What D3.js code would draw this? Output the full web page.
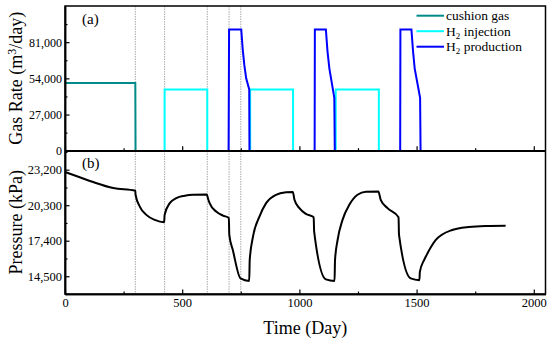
<!DOCTYPE html>
<html lang="en">
<head>
    <meta charset="UTF-8">
    <title>Gas rate and pressure</title>
    <script src="https://d3js.org/d3.v7.min.js"></script>
    <style>
        body { margin: 0; background: #fff; }
        text { font-family: "Liberation Serif", "Times New Roman", serif; fill: #000; }
        .axis path, .axis line { stroke: #000; }
        .axis path { stroke-width: 1.5; }
    </style>
</head>
<body>
    <svg width="550" height="341"></svg>
    <script>
        // event days (grey dotted lines)
        const eventDays = [300, 425, 607, 700, 750];

        // gas rate series, [day, m3/day]
        const cushionGas = [[0, 50500], [300, 50500], [301, 0]];
        const h2Injection = [
            [[425, 0], [425, 45700], [607, 45700], [607, 0]],
            [[790, 0], [790, 45700], [973, 45700], [973, 0]],
            [[1155, 0], [1155, 45700], [1339, 45700], [1339, 0]]
        ];
        const h2Production = [
            [[698, 0], [700, 90500], [752, 90500], [758, 76000], [765, 64000], [773, 54000], [786, 45700], [787, 0]],
            [[1065, 0], [1066, 90500], [1113, 90500], [1120, 74000], [1128, 61300], [1149, 39400], [1151, 0]],
            [[1430, 0], [1431, 90500], [1478, 90500], [1485, 74000], [1492, 61300], [1515, 39400], [1517, 0]]
        ];

        // pressure, [day, kPa]
        const pressure = [
            [0, 23010], [60, 22600], [120, 22190], [206, 21700], [300, 21480],
            [301, 21150], [319, 20190], [347, 19510], [383, 19100], [423, 18910],
            [425, 19510], [447, 20470], [475, 20880], [511, 21070], [546, 21150], [605, 21170],
            [610, 20850], [617, 20470], [645, 19780], [674, 19450], [699, 19260],
            [701, 17870], [716, 16640], [749, 14320], [786, 14120],
            [788, 15800], [802, 17730], [830, 19390], [858, 20470], [900, 21150], [943, 21350], [972, 21380],
            [979, 20740], [1000, 20060], [1028, 19590], [1061, 19320],
            [1063, 18140], [1113, 14240], [1150, 14120],
            [1152, 15820], [1163, 17460], [1184, 19100], [1213, 20330], [1248, 21150], [1284, 21400], [1337, 21420],
            [1347, 20740], [1376, 20060], [1423, 19320],
            [1425, 17870], [1475, 14320], [1512, 14180],
            [1514, 14860], [1532, 15820], [1539, 16090], [1582, 17460], [1652, 18280], [1723, 18530], [1794, 18610], [1880, 18630]
        ];

        const xTicks = [0, 500, 1000, 1500, 2000];
        const xMinor = [250, 750, 1250, 1750];
        const rateTicks = [0, 27000, 54000, 81000];
        const rateMinor = [13500, 40500, 67500, 94500];
        const pressTicks = [14500, 17400, 20300, 23200];
        const pressMinor = [13050, 15950, 18850, 21750, 24650];

        const legendItems = [
            { name: "cushion gas", sub: null, color: "#008b8b" },
            { name: "H", sub: " injection", color: "#00ffff" },
            { name: "H", sub: " production", color: "#0000ff" }
        ];

        const serif = '"Liberation Serif", "Times New Roman", serif';
        const svg = d3.select("svg");
        const left = 65, right = 545.5, topA = 6, midY = 150.7, botB = 294;

        const x = d3.scaleLinear().domain([0, 2050]).range([left, right]);
        const yA = d3.scaleLinear().domain([0, 108000]).range([midY, topA]);
        const yB = d3.scaleLinear().domain([13050, 24750]).range([botB, midY]);

        // dotted event lines
        svg.append("g").selectAll("line")
            .data(eventDays)
            .join("line")
            .attr("x1", d => x(d)).attr("x2", d => x(d))
            .attr("y1", topA).attr("y2", botB)
            .attr("stroke", "#aaa")
            .attr("stroke-width", 1)
            .attr("stroke-dasharray", "1.5,1");

        const lineA = d3.line().x(d => x(d[0])).y(d => yA(d[1]));
        const lineB = d3.line().x(d => x(d[0])).y(d => yB(d[1])).curve(d3.curveMonotoneX);

        svg.append("path").datum(cushionGas)
            .attr("d", lineA).attr("fill", "none")
            .attr("stroke", legendItems[0].color).attr("stroke-width", 2);

        svg.append("g").selectAll("path")
            .data(h2Injection).join("path")
            .attr("d", lineA).attr("fill", "none")
            .attr("stroke", legendItems[1].color).attr("stroke-width", 2);

        svg.append("g").selectAll("path")
            .data(h2Production).join("path")
            .attr("d", lineA).attr("fill", "none")
            .attr("stroke", legendItems[2].color).attr("stroke-width", 2);

        svg.append("path").datum(pressure)
            .attr("d", lineB).attr("fill", "none")
            .attr("stroke", "#000").attr("stroke-width", 2);

        // axes (ticks point inward)
        function drawAxis(axis, transform, fontSize) {
            const g = svg.append("g").attr("class", "axis").attr("transform", transform).call(axis);
            g.attr("font-family", serif).attr("font-size", fontSize);
            g.selectAll("text").style("font-family", serif).style("font-size", fontSize + "px").attr("fill", "#000");
            g.selectAll("line").attr("stroke-width", 1.2);
            return g;
        }
        const fmt = d3.format(",");

        drawAxis(d3.axisLeft(yA).tickValues(rateTicks).tickFormat(fmt).tickSize(-4.5).tickPadding(3).tickSizeOuter(0),
            `translate(${left},0)`, 12);
        drawAxis(d3.axisLeft(yA).tickValues(rateMinor).tickFormat("").tickSize(-2.5).tickSizeOuter(0),
            `translate(${left},0)`, 12);
        drawAxis(d3.axisLeft(yB).tickValues(pressTicks).tickFormat(fmt).tickSize(-4.5).tickPadding(3).tickSizeOuter(0),
            `translate(${left},0)`, 12.5);
        drawAxis(d3.axisLeft(yB).tickValues(pressMinor).tickFormat("").tickSize(-2.5).tickSizeOuter(0),
            `translate(${left},0)`, 12);

        drawAxis(d3.axisBottom(x).tickValues(xTicks).tickFormat("").tickSize(-4.5).tickSizeOuter(0),
            `translate(0,${midY})`, 12);
        drawAxis(d3.axisBottom(x).tickValues(xMinor).tickFormat("").tickSize(-2.5).tickSizeOuter(0),
            `translate(0,${midY})`, 12);
        drawAxis(d3.axisBottom(x).tickValues(xTicks).tickFormat(d3.format("d")).tickSize(-4.5).tickPadding(4).tickSizeOuter(0),
            `translate(0,${botB})`, 12.5);
        drawAxis(d3.axisBottom(x).tickValues(xMinor).tickFormat("").tickSize(-2.5).tickSizeOuter(0),
            `translate(0,${botB})`, 12);

        // frames
        svg.append("rect").attr("x", left).attr("y", topA)
            .attr("width", right - left).attr("height", botB - topA)
            .attr("fill", "none").attr("stroke", "#000").attr("stroke-width", 1.5);
        svg.append("line").attr("x1", left).attr("x2", right)
            .attr("y1", midY).attr("y2", midY)
            .attr("stroke", "#000").attr("stroke-width", 1.5);

        // panel labels
        svg.append("text").attr("x", 82).attr("y", 24).style("font-size", "15px").text("(a)");
        svg.append("text").attr("x", 82).attr("y", 168).style("font-size", "15px").text("(b)");

        // axis titles
        const tA = svg.append("text")
            .attr("transform", `translate(22,${(topA + midY) / 2}) rotate(-90)`)
            .attr("text-anchor", "middle").style("font-size", "18px");
        tA.append("tspan").text("Gas Rate (m");
        tA.append("tspan").attr("dy", -6).style("font-size", "12px").text("3");
        tA.append("tspan").attr("dy", 6).text("/day)");

        svg.append("text")
            .attr("transform", `translate(22,${(midY + botB) / 2}) rotate(-90)`)
            .attr("text-anchor", "middle").style("font-size", "18px")
            .text("Pressure (kPa)");

        svg.append("text").attr("x", (left + right) / 2).attr("y", 334)
            .attr("text-anchor", "middle").style("font-size", "18px")
            .text("Time (Day)");

        // legend
        const lg = svg.append("g").selectAll("g")
            .data(legendItems).join("g")
            .attr("transform", (d, i) => `translate(416.5,${15.7 + i * 15.5})`);
        lg.append("line").attr("x1", 0).attr("x2", 27.5)
            .attr("stroke", d => d.color).attr("stroke-width", 2);
        const lt = lg.append("text").attr("x", 29.5).attr("y", 4.5).style("font-size", "13.5px");
        lt.append("tspan").text(d => d.name);
        lt.filter(d => d.sub).append("tspan").attr("dy", 3).style("font-size", "9px").text("2");
        lt.filter(d => d.sub).append("tspan").attr("dy", -3).text(d => d.sub);
    </script>
</body>
</html>
